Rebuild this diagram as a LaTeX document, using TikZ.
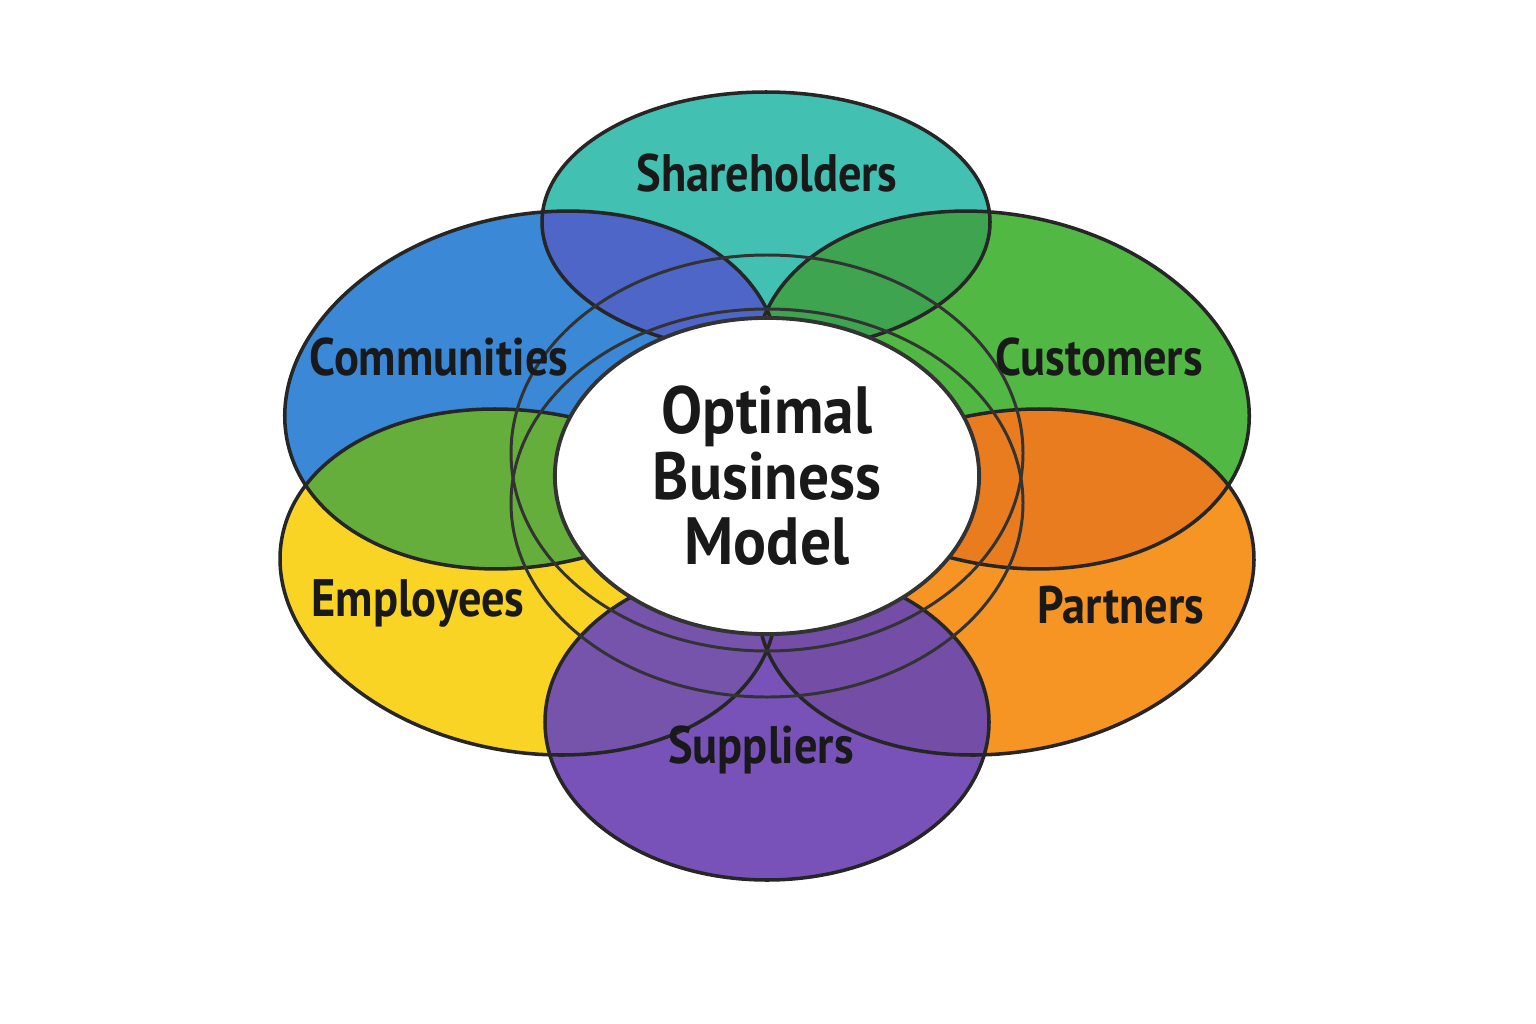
\documentclass[tikz,border=0pt]{standalone}
\usepackage{fontspec}
\setmainfont{PT Sans}
\newfontfamily\lblfont{PT Sans}[FakeStretch=0.88]
\newfontfamily\ctrfont{PT Sans}[FakeStretch=0.92]
\usetikzlibrary{shapes.geometric}
\begin{document}
\begin{tikzpicture}[x=0.01cm,y=0.01cm,
  rim/.style={draw=black!85, line width=1pt},
  ring/.style={draw=black!80, line width=0.85pt},
  lbl/.style={font=\lblfont\bfseries\fontsize{15}{15}\selectfont, text=black!90},
  ctr/.style={font=\ctrfont\bfseries\fontsize{19}{18.6}\selectfont, align=center, text=black!90}]
\definecolor{cteal}{RGB}{66,192,178}
\definecolor{cblue}{RGB}{58,136,214}
\definecolor{cgreen}{RGB}{82,184,68}
\definecolor{cyellow}{RGB}{250,212,36}
\definecolor{corange}{RGB}{246,148,36}
\definecolor{cpurple}{RGB}{120,82,184}
\definecolor{oTB}{RGB}{78,102,200}
\definecolor{oTG}{RGB}{62,164,80}
\definecolor{oBY}{RGB}{102,174,60}
\definecolor{oGO}{RGB}{234,124,32}
\definecolor{oYP}{RGB}{118,84,172}
\definecolor{oOP}{RGB}{116,78,166}
\definecolor{oBG}{RGB}{46,146,100}
\def\pTeal{(766,-222) ellipse [x radius=224, y radius=130]}
\def\pBlue{(532,-390) ellipse [x radius=250, y radius=175, rotate=12]}
\def\pGreen{(1002,-390) ellipse [x radius=250, y radius=175, rotate=-12]}
\def\pYellow{(528,-582) ellipse [x radius=250, y radius=170, rotate=-10]}
\def\pOrange{(1006,-582) ellipse [x radius=250, y radius=170, rotate=10]}
\def\pPurple{(767,-722) ellipse [x radius=222, y radius=158]}
\def\rA{(767,-453) ellipse [x radius=256, y radius=198]}
\def\rB{(767,-503) ellipse [x radius=256, y radius=194]}
\useasboundingbox (0,0) rectangle (1536,-1024);
\fill[white] (0,0) rectangle (1536,-1024);
% petals
\fill[cteal] \pTeal;
\fill[cblue] \pBlue;
\fill[cgreen] \pGreen;
\fill[cyellow] \pYellow;
\fill[corange] \pOrange;
\fill[cpurple] \pPurple;
% overlaps
\begin{scope}\clip \pBlue; \fill[oTB] \pTeal; \end{scope}
\begin{scope}\clip \pGreen; \fill[oTG] \pTeal; \end{scope}
\begin{scope}\clip \pBlue; \fill[oBG] \pGreen; \end{scope}
\begin{scope}\clip \pBlue; \fill[oBY] \pYellow; \end{scope}
\begin{scope}\clip \pGreen; \fill[oGO] \pOrange; \end{scope}
\begin{scope}\clip \pYellow; \fill[oYP] \pPurple; \end{scope}
\begin{scope}\clip \pOrange; \fill[oOP] \pPurple; \end{scope}
% outlines
\draw[rim] \pTeal;
\draw[rim] \pBlue;
\draw[rim] \pGreen;
\draw[rim] \pYellow;
\draw[rim] \pOrange;
\draw[rim] \pPurple;
\draw[ring] \rA;
\draw[ring] \rB;
% centre
\node[ellipse, minimum width=4.24cm, minimum height=3.16cm, inner sep=0pt, fill=white, draw=black!80, line width=1.1pt, ctr] (c) at (767,-476) {Optimal\\Business\\Model};
% labels
\node[lbl] (sh) at (767,-173) {Shareholders};
\node[lbl] (co) at (439,-357) {Communities};
\node[lbl] (cu) at (1099,-357) {Customers};
\node[lbl] (em) at (418,-603) {Employees};
\node[lbl] (pa) at (1121,-605) {Partners};
\node[lbl] (su) at (761,-750) {Suppliers};
\end{tikzpicture}
\end{document}
